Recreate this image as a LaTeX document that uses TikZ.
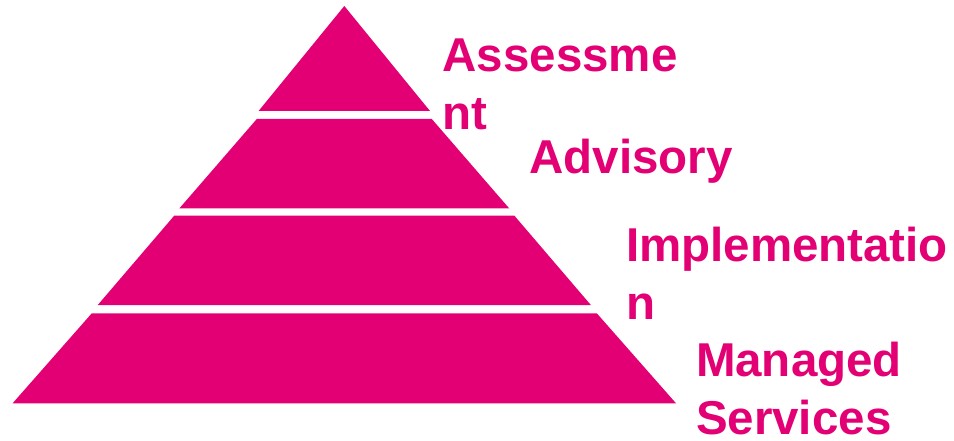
\documentclass[tikz,border=0pt]{standalone}
\usepackage{fontspec}
\setmainfont{Liberation Sans}
\definecolor{tmag}{RGB}{226,0,116}
\tikzset{
  layer/.style={fill=tmag, draw=none},
  lbl/.style={text=tmag, font=\bfseries\fontsize{47.5}{57.5}\selectfont, inner sep=0pt, outer sep=0pt, anchor=base west, align=left}
}
\begin{document}
\begin{tikzpicture}[x=1pt,y=-1pt]
\useasboundingbox (0,0) rectangle (954,441);
% layers
\fill[layer] (344.3,6) -- (430,111) -- (258.6,111) -- cycle;
\fill[layer] (256.8,119) -- (431.8,119) -- (509.3,208.5) -- (179.3,208.5) -- cycle;
\fill[layer] (174.3,215.6) -- (514.3,215.6) -- (591,305.2) -- (97.6,305.2) -- cycle;
\fill[layer] (91.8,313.3) -- (596.8,313.3) -- (676,403.3) -- (12.6,403.3) -- cycle;
% labels (base anchor = baseline of the last line)
\node[lbl] (assess) at (442.5,129.2) {Assessme\\nt};
\node[lbl] (advis) at (529.3,173.3) {Advisory};
\node[lbl] (impl) at (626,319.2) {Implementatio\\n};
\node[lbl] (manag) at (696,434.2) {Managed\\Services};
\end{tikzpicture}
\end{document}
